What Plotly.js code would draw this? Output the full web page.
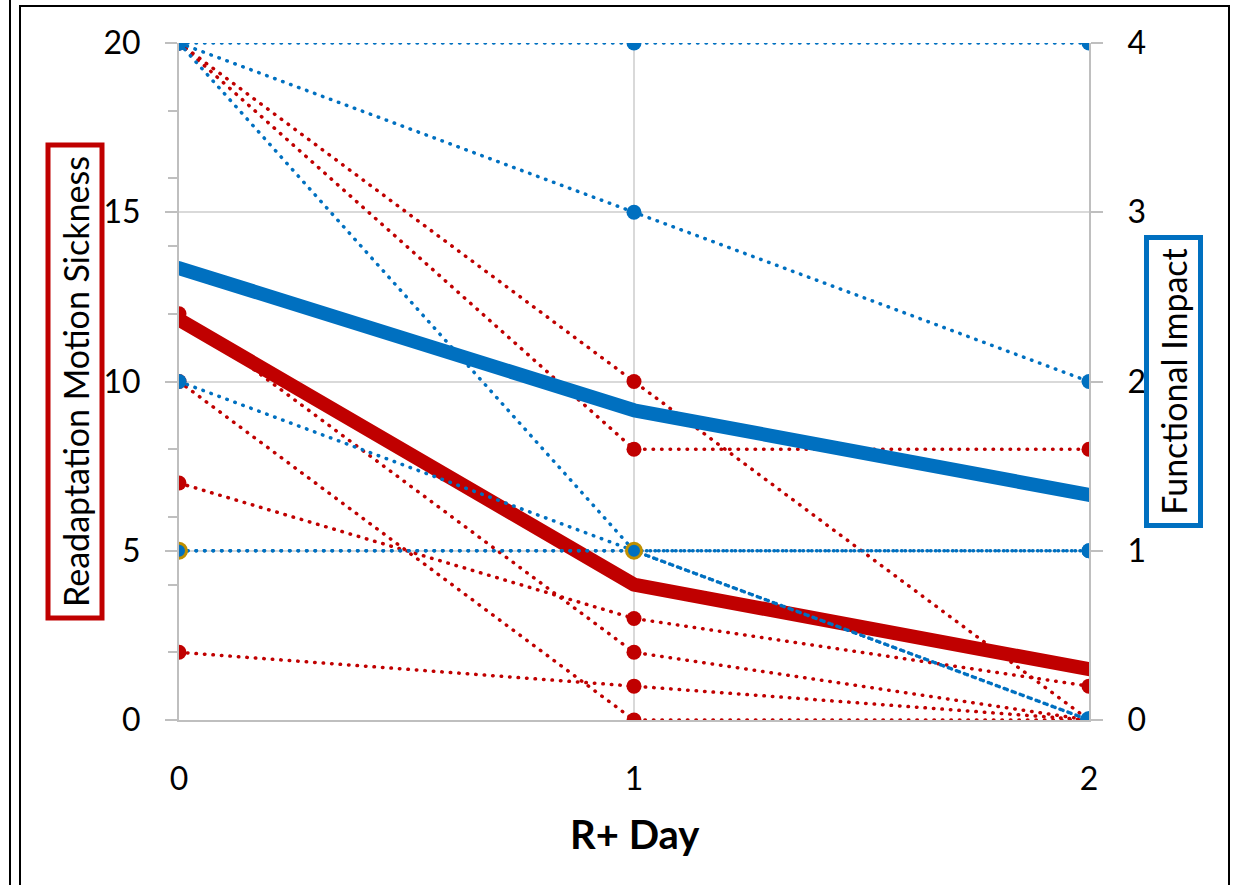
<!DOCTYPE html>
<html>
<head>
<meta charset="utf-8">
<script src="https://cdn.plot.ly/plotly-3.0.1.min.js"></script>
<style>
  html, body { margin: 0; padding: 0; background: #ffffff; }
  #wrap { position: relative; width: 1233px; height: 885px; overflow: hidden; }
  #chart { position: absolute; left: 0; top: 0; width: 1233px; height: 885px; }
  .js-line { stroke-linecap: round; stroke-linejoin: round; }
  #frameA { position: absolute; left: 9px; top: 0; width: 2px; height: 885px; background: #000; pointer-events: none; }
  #frameB { position: absolute; left: 19px; top: 5px; width: 1207px; height: 900px; border: 2px solid #000; border-bottom: none; pointer-events: none; }
</style>
</head>
<body>
<div id="wrap">
  <div id="chart"></div>
  <div id="frameA"></div>
  <div id="frameB"></div>
</div>
<script>
// ---- data ----
var days = [0, 1, 2];
var dayLabels = ['0', '1', '2'];

// Readaptation Motion Sickness (left axis), individual subjects
var rms1 = [20, 10, 0];
var rms2 = [20, 8, 8];
var rms3 = [12, 2, 0];
var rms4 = [10, 0, 0];
var rms5 = [7, 3, 1];
var rms6 = [2, 1, 0];
var rmsMean = [11.83, 4, 1.5];

// Functional Impact (right axis), individual subjects
var fi1 = [4, 4, 4];
var fi2 = [4, 3, 2];
var fi3 = [4, 1, 0];
var fi4 = [2, 1, 1];
var fi5 = [1, 1, 0];
var fi6 = [1, 1, 1];
var fiMean = [2.67, 1.83, 1.33];

var leftTicks = [0, 5, 10, 15, 20];
var rightTicks = [0, 1, 2, 3, 4];

var leftTitle = 'Readaptation Motion Sickness';
var rightTitle = 'Functional Impact';
var xTitle = 'R+ Day';

// ---- styling ----
var RED = '#c00000';
var BLUE = '#0070c0';
var GOLD = '#bf8f00';
var DOT = '0.5px,8px';

function dotted(y, color, axis, lineColors) {
  return {
    x: days, y: y, yaxis: axis, type: 'scatter', mode: 'lines+markers',
    line: { color: color, width: 3.5, dash: DOT },
    marker: { color: color, size: 15, line: { color: lineColors || color, width: lineColors ? 3 : 0 } },
    showlegend: false, hoverinfo: 'skip'
  };
}

var traces = [
  dotted(rms1, RED, 'y'),
  dotted(rms2, RED, 'y'),
  dotted(rms3, RED, 'y'),
  dotted(rms4, RED, 'y'),
  dotted(rms5, RED, 'y'),
  dotted(rms6, RED, 'y'),
  dotted(fi1, BLUE, 'y2'),
  dotted(fi2, BLUE, 'y2'),
  dotted(fi3, BLUE, 'y2'),
  dotted(fi4, BLUE, 'y2'),
  dotted(fi6, BLUE, 'y2'),
  dotted(fi5, BLUE, 'y2', [GOLD, GOLD, BLUE]),
  { x: days, y: rmsMean, yaxis: 'y', type: 'scatter', mode: 'lines',
    line: { color: RED, width: 14 }, showlegend: false, hoverinfo: 'skip' },
  { x: days, y: fiMean, yaxis: 'y2', type: 'scatter', mode: 'lines',
    line: { color: BLUE, width: 14 }, showlegend: false, hoverinfo: 'skip' }
];

var FONT = 'Lato, "Open Sans", sans-serif';

var layout = {
  width: 1233, height: 885,
  margin: { l: 179, r: 144, t: 43, b: 165, pad: 0 },
  paper_bgcolor: '#ffffff', plot_bgcolor: '#ffffff',
  font: { family: FONT, color: '#000000', size: 32 },
  showlegend: false,
  xaxis: {
    range: [0, 2], tickmode: 'array', tickvals: days, ticktext: dayLabels,
    showgrid: true, gridcolor: '#d9d9d9', gridwidth: 2,
    zeroline: false, showline: true, linecolor: '#bfbfbf', linewidth: 2,
    ticks: '', ticklabelstandoff: 30,
    tickfont: { family: FONT, size: 32, color: '#000' },
    fixedrange: true
  },
  yaxis: {
    range: [0, 20], tickmode: 'array', tickvals: leftTicks,
    showgrid: true, gridcolor: '#d9d9d9', gridwidth: 2,
    zeroline: false, showline: true, linecolor: '#bfbfbf', linewidth: 2,
    ticks: 'outside', ticklen: 12, tickwidth: 2, tickcolor: '#bfbfbf',
    minor: { tickmode: 'linear', tick0: 0, dtick: 2, ticks: 'outside', ticklen: 9, tickwidth: 2, tickcolor: '#bfbfbf', showgrid: false },
    ticklabelstandoff: 18,
    tickfont: { family: FONT, size: 32, color: '#000' },
    fixedrange: true
  },
  yaxis2: {
    range: [0, 4], overlaying: 'y', side: 'right', tickmode: 'array', tickvals: rightTicks,
    showgrid: false, zeroline: false, showline: true, linecolor: '#bfbfbf', linewidth: 2,
    ticks: 'outside', ticklen: 12, tickwidth: 2, tickcolor: '#bfbfbf',
    ticklabelstandoff: 18,
    tickfont: { family: FONT, size: 32, color: '#000' },
    fixedrange: true
  },
  annotations: [
    { text: leftTitle, xref: 'paper', yref: 'paper', x: (75.5 - 179) / 910, y: (720 - 382) / 677,
      xanchor: 'center', yanchor: 'middle', textangle: -90, showarrow: false,
      font: { family: FONT, size: 34, color: '#000' },
      width: 460, height: 41, borderpad: 4, borderwidth: 5, bordercolor: RED, bgcolor: '#ffffff' },
    { text: rightTitle, xref: 'paper', yref: 'paper', x: (1173.5 - 179) / 910, y: (720 - 381.5) / 677,
      xanchor: 'center', yanchor: 'middle', textangle: -90, showarrow: false,
      font: { family: FONT, size: 34, color: '#000' },
      width: 275, height: 41, borderpad: 4, borderwidth: 5, bordercolor: BLUE, bgcolor: '#ffffff' },
    { text: '<b>' + xTitle + '</b>', xref: 'paper', yref: 'paper', x: (634.5 - 179) / 910, y: (720 - 834) / 677,
      xanchor: 'center', yanchor: 'middle', showarrow: false,
      font: { family: FONT, size: 40, color: '#000' } }
  ]
};

Plotly.newPlot('chart', traces, layout, { staticPlot: true, displayModeBar: false }).then(function (gd) {
  var paths = gd.querySelectorAll('path.js-line');
  for (var i = 0; i < paths.length; i++) {
    paths[i].style.strokeLinecap = 'round';
    paths[i].style.strokeLinejoin = 'round';
  }
});
</script>
</body>
</html>
